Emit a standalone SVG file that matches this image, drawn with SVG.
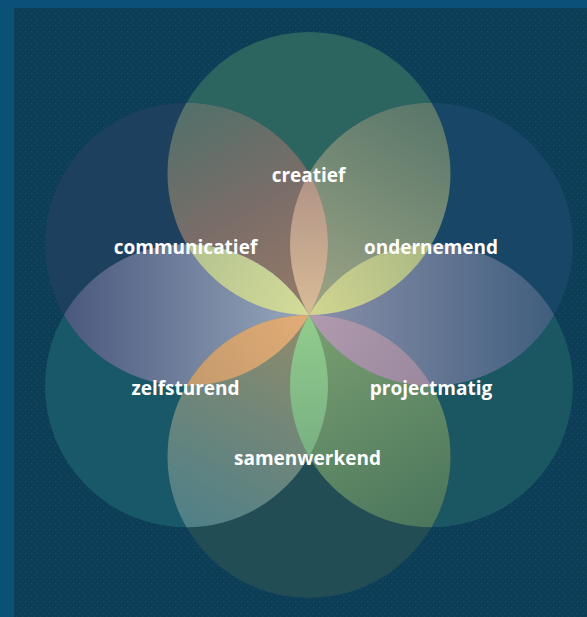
<svg xmlns="http://www.w3.org/2000/svg" width="587" height="617" viewBox="0 0 587 617">
<defs>
<style>
.lbl{font-family:"Open Sans","Liberation Sans",sans-serif;font-weight:700;font-size:19px;fill:#ffffff;text-anchor:middle}
</style>
<pattern id="tex" width="6" height="6" patternUnits="userSpaceOnUse">
<rect x="1" y="1" width="1.2" height="1.2" fill="#ffffff" opacity="0.07"/>
<rect x="4" y="4" width="1.2" height="1.2" fill="#ffffff" opacity="0.04"/>
</pattern>
<linearGradient id="d120" gradientUnits="userSpaceOnUse" x1="186.46" y1="102.75" x2="309" y2="315"><stop offset="0" stop-color="#52706a"/><stop offset="0.5" stop-color="#7a6d68"/><stop offset="1" stop-color="#977a68"/></linearGradient>
<linearGradient id="d60" gradientUnits="userSpaceOnUse" x1="431.54" y1="102.75" x2="309" y2="315"><stop offset="0" stop-color="#587669"/><stop offset="1" stop-color="#9ea686"/></linearGradient>
<linearGradient id="d0" gradientUnits="userSpaceOnUse" x1="554.08" y1="315" x2="309" y2="315"><stop offset="0" stop-color="#405e7e"/><stop offset="1" stop-color="#8a90aa"/></linearGradient>
<linearGradient id="d300" gradientUnits="userSpaceOnUse" x1="431.54" y1="527.25" x2="309" y2="315"><stop offset="0" stop-color="#4b765c"/><stop offset="1" stop-color="#7a9f70"/></linearGradient>
<linearGradient id="d240" gradientUnits="userSpaceOnUse" x1="186.46" y1="527.25" x2="309" y2="315"><stop offset="0" stop-color="#4f8088"/><stop offset="1" stop-color="#918c6a"/></linearGradient>
<linearGradient id="d180" gradientUnits="userSpaceOnUse" x1="63.92" y1="315" x2="309" y2="315"><stop offset="0" stop-color="#4a587e"/><stop offset="1" stop-color="#98a8bc"/></linearGradient>
<linearGradient id="p90" gradientUnits="userSpaceOnUse" x1="309" y1="173.5" x2="309" y2="315"><stop offset="0" stop-color="#b09286"/><stop offset="1" stop-color="#d8bc96"/></linearGradient>
<linearGradient id="p150" gradientUnits="userSpaceOnUse" x1="186.46" y1="244.25" x2="309" y2="315"><stop offset="0" stop-color="#b3c290"/><stop offset="1" stop-color="#d4dc98"/></linearGradient>
<linearGradient id="p30" gradientUnits="userSpaceOnUse" x1="431.54" y1="244.25" x2="309" y2="315"><stop offset="0" stop-color="#a9b884"/><stop offset="1" stop-color="#d2d690"/></linearGradient>
<linearGradient id="p210" gradientUnits="userSpaceOnUse" x1="186.46" y1="385.75" x2="309" y2="315"><stop offset="0" stop-color="#c49a6c"/><stop offset="1" stop-color="#e2ac76"/></linearGradient>
<linearGradient id="p270" gradientUnits="userSpaceOnUse" x1="309" y1="456.5" x2="309" y2="315"><stop offset="0" stop-color="#78b083"/><stop offset="1" stop-color="#92cc8c"/></linearGradient>
<linearGradient id="p330" gradientUnits="userSpaceOnUse" x1="431.54" y1="385.75" x2="309" y2="315"><stop offset="0" stop-color="#9a889e"/><stop offset="1" stop-color="#b09aae"/></linearGradient>
</defs>
<rect id="frame" x="0" y="0" width="587" height="617" fill="#0b5077"/>
<rect id="panel" x="14" y="8" width="573" height="609" fill="#0d3e57"/>
<rect x="14" y="8" width="573" height="609" fill="url(#tex)"/>
<g id="circles">
<g id="node-creatief"><circle cx="309" cy="173.5" r="141.5" fill="#2c6560"/></g>
<g id="node-ondernemend"><circle cx="431.54" cy="244.25" r="141.5" fill="#184666"/></g>
<g id="node-projectmatig"><circle cx="431.54" cy="385.75" r="141.5" fill="#1b5663"/></g>
<g id="node-samenwerkend"><circle cx="309" cy="456.5" r="141.5" fill="#224d55"/></g>
<g id="node-zelfsturend"><circle cx="186.46" cy="385.75" r="141.5" fill="#195868"/></g>
<g id="node-communicatief"><circle cx="186.46" cy="244.25" r="141.5" fill="#1e405f"/></g>
</g>
<g id="overlaps">
<path d="M309 315A141.5 141.5 0 0 1 431.54 102.75A141.5 141.5 0 0 1 309 315Z" fill="url(#d60)"/>
<path d="M309 315A141.5 141.5 0 0 1 186.46 102.75A141.5 141.5 0 0 1 309 315Z" fill="url(#d120)"/>
<path d="M309 315A141.5 141.5 0 0 1 63.92 315A141.5 141.5 0 0 1 309 315Z" fill="url(#d180)"/>
<path d="M309 315A141.5 141.5 0 0 1 186.46 527.25A141.5 141.5 0 0 1 309 315Z" fill="url(#d240)"/>
<path d="M309 315A141.5 141.5 0 0 1 431.54 527.25A141.5 141.5 0 0 1 309 315Z" fill="url(#d300)"/>
<path d="M309 315A141.5 141.5 0 0 1 554.08 315A141.5 141.5 0 0 1 309 315Z" fill="url(#d0)"/>
</g>
<g id="petals">
<path d="M309 315A141.5 141.5 0 0 1 309 173.5A141.5 141.5 0 0 1 309 315Z" fill="url(#p90)"/>
<path d="M309 315A141.5 141.5 0 0 1 186.46 244.25A141.5 141.5 0 0 1 309 315Z" fill="url(#p150)"/>
<path d="M309 315A141.5 141.5 0 0 1 431.54 244.25A141.5 141.5 0 0 1 309 315Z" fill="url(#p30)"/>
<path d="M309 315A141.5 141.5 0 0 1 186.46 385.75A141.5 141.5 0 0 1 309 315Z" fill="url(#p210)"/>
<path d="M309 315A141.5 141.5 0 0 1 309 456.5A141.5 141.5 0 0 1 309 315Z" fill="url(#p270)"/>
<path d="M309 315A141.5 141.5 0 0 1 431.54 385.75A141.5 141.5 0 0 1 309 315Z" fill="url(#p330)"/>
</g>
<g id="labels">
<text class="lbl" x="308.5" y="182">creatief</text>
<text class="lbl" x="431" y="254">ondernemend</text>
<text class="lbl" x="431" y="395">projectmatig</text>
<text class="lbl" x="307.5" y="465">samenwerkend</text>
<text class="lbl" x="185.5" y="395">zelfsturend</text>
<text class="lbl" x="185.5" y="254">communicatief</text>
</g>
</svg>
